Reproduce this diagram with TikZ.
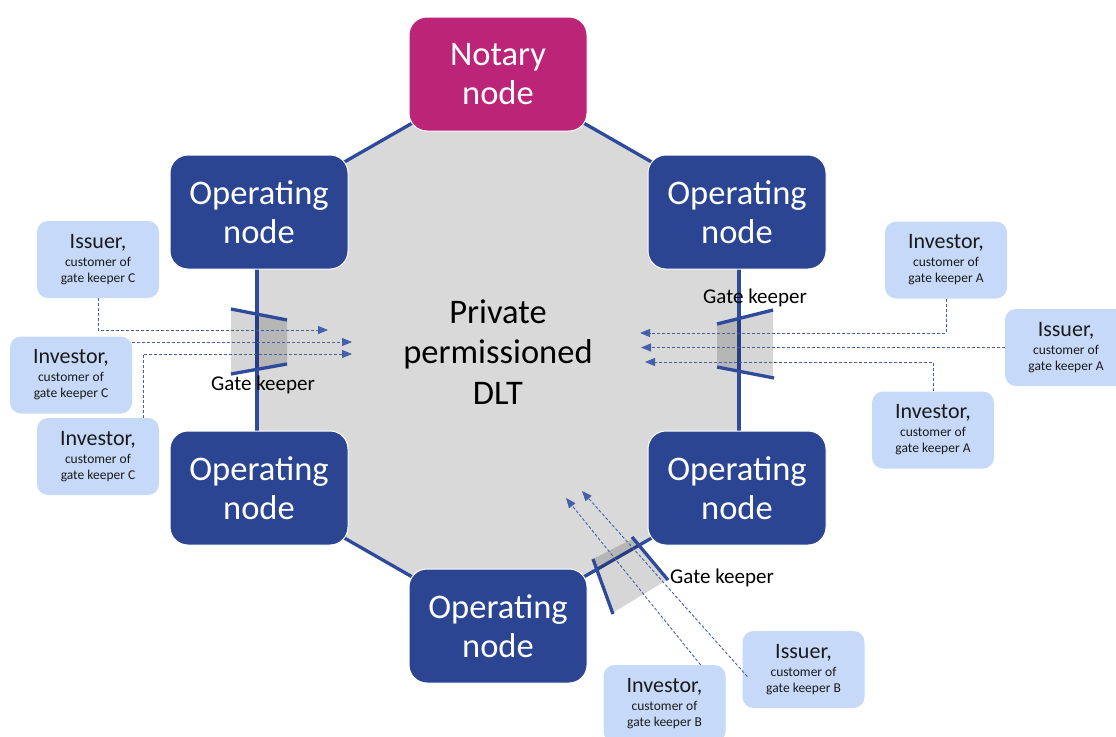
\documentclass[tikz,border=0pt]{standalone}
\usepackage{fontspec}
\setmainfont{Carlito}
\usetikzlibrary{arrows.meta,calc}
\definecolor{opblue}{HTML}{2B4593}
\definecolor{notary}{HTML}{BC2477}
\definecolor{boxblue}{HTML}{C6D9F9}
\definecolor{edgeblue}{HTML}{2E4A9A}
\definecolor{arrblue}{HTML}{4560AA}
\definecolor{hexgray}{HTML}{D9D9D9}
\definecolor{boxtext}{HTML}{1A1A1A}
\newcommand{\bigt}{\fontsize{22}{18}\selectfont}
\newcommand{\smallt}{\fontsize{13.5}{16}\selectfont}
\tikzset{
  mainnode/.style={rounded corners=18pt, draw=white, line width=1pt, minimum width=178pt, minimum height=114pt, text=white, align=center, font=\fontsize{34.5}{38.5}\selectfont, inner sep=0pt},
  opnode/.style={mainnode, fill=opblue},
  notnode/.style={mainnode, fill=notary},
  custbox/.style={rounded corners=11pt, fill=boxblue, minimum width=122pt, minimum height=77pt, align=center, inner sep=0pt, text=boxtext, font=\smallt},
  edge/.style={draw=edgeblue, line width=3.3pt},
  gateline/.style={draw=edgeblue, line width=3.3pt},
  gatefill/.style={fill=black, fill opacity=0.16},
  gatelabel/.style={font=\fontsize{21}{24}\selectfont, text=black},
  arr/.style={draw=arrblue, line width=0.9pt, dash pattern=on 3pt off 2pt, -{Triangle[length=10pt,width=8pt]}},
}
\begin{document}
\begin{tikzpicture}[x=1pt,y=-1pt]
\useasboundingbox (0,0) rectangle (1116,736);
\coordinate (cnot) at (498,74);
\coordinate (ctl) at (257,212);
\coordinate (ctr) at (739,212);
\coordinate (cbl) at (257,488);
\coordinate (cbr) at (739,488);
\coordinate (cbot) at (498,626);
% hexagon
\fill[hexgray] (cnot) -- (ctr) -- (cbr) -- (cbot) -- (cbl) -- (ctl) -- cycle;
% edges
\draw[edge] (ctl) -- (cbl);
\draw[edge] (ctr) -- (cbr);
\draw[edge] (ctl) -- (cnot) -- (ctr);
\draw[edge] (cbl) -- (cbot) -- (cbr);
% nodes
\node[notnode] (not) at (cnot) {Notary\\node};
\node[opnode] (tl) at (259,212) {Operating\\node};
\node[opnode] (tr) at (737,212) {Operating\\node};
\node[opnode] (bl) at (259,488) {Operating\\node};
\node[opnode] (br) at (737,488) {Operating\\node};
\node[opnode] (bot) at (cbot) {Operating\\node};
% customer boxes
\node[custbox] (issc) at (98,259.5) {{\bigt Issuer,}\\[2pt]customer of\\gate keeper C};
\node[custbox] (invc1) at (71,375) {{\bigt Investor,}\\[2pt]customer of\\gate keeper C};
\node[custbox] (invc2) at (98,456.5) {{\bigt Investor,}\\[2pt]customer of\\gate keeper C};
\node[custbox] (inva1) at (946,260) {{\bigt Investor,}\\[2pt]customer of\\gate keeper A};
\node[custbox] (issa) at (1066,347.5) {{\bigt Issuer,}\\[2pt]customer of\\gate keeper A};
\node[custbox] (inva2) at (933,430) {{\bigt Investor,}\\[2pt]customer of\\gate keeper A};
\node[custbox] (invb) at (664.5,703.5) {{\bigt Investor,}\\[2pt]customer of\\gate keeper B};
\node[custbox] (issb) at (803.5,669.5) {{\bigt Issuer,}\\[2pt]customer of\\gate keeper B};
% gate keepers
\fill[gatefill] (231,309) -- (287,320) -- (287,364) -- (231,374) -- cycle;
\draw[gateline] (231,309) -- (287,320);
\draw[gateline] (231,374) -- (287,364);
\node[gatelabel] (gkc) at (263,385) {Gate keeper};
\fill[gatefill] (717,324) -- (773,310) -- (773,378) -- (717,367) -- cycle;
\draw[gateline] (717,324) -- (773,310);
\draw[gateline] (717,367) -- (774,378);
\node[gatelabel] (gka) at (755,298) {Gate keeper};
\fill[gatefill] (593,559) -- (634,538) -- (667,580) -- (614,612) -- cycle;
\draw[gateline] (593,559) -- (613,614);
\draw[gateline] (632,537) -- (668,580);
\node[gatelabel] (gkb) at (722,578) {Gate keeper};
% arrow targets
\coordinate (tc1) at (328,330);
\coordinate (tc2) at (352,342);
\coordinate (tc3) at (352,354);
\coordinate (ta1) at (640,333);
\coordinate (ta2) at (641,347.5);
\coordinate (ta3) at (645,362);
\coordinate (tb1) at (566,498);
\coordinate (tb2) at (582,491);
% arrows
\draw[arr] (issc.south) |- (tc1);
\draw[arr] (invc1.east |- tc2) -- (tc2);
\draw[arr] ($(invc2.north)+(45,0)$) |- (tc3);
\draw[arr] (inva1.south) |- (ta1);
\draw[arr] (issa.west) -- (ta2);
\draw[arr] (inva2.north) |- (ta3);
\draw[arr] ($(invb.north)+(36,0)$) -- (tb1);
\draw[arr] ($(issb.west)+(5,7)$) -- (tb2);
% centre label
\node[font=\fontsize{34.5}{40.5}\selectfont, align=center, text=black] (dlt) at (498,352) {Private\\permissioned\\DLT};
\end{tikzpicture}
\end{document}
